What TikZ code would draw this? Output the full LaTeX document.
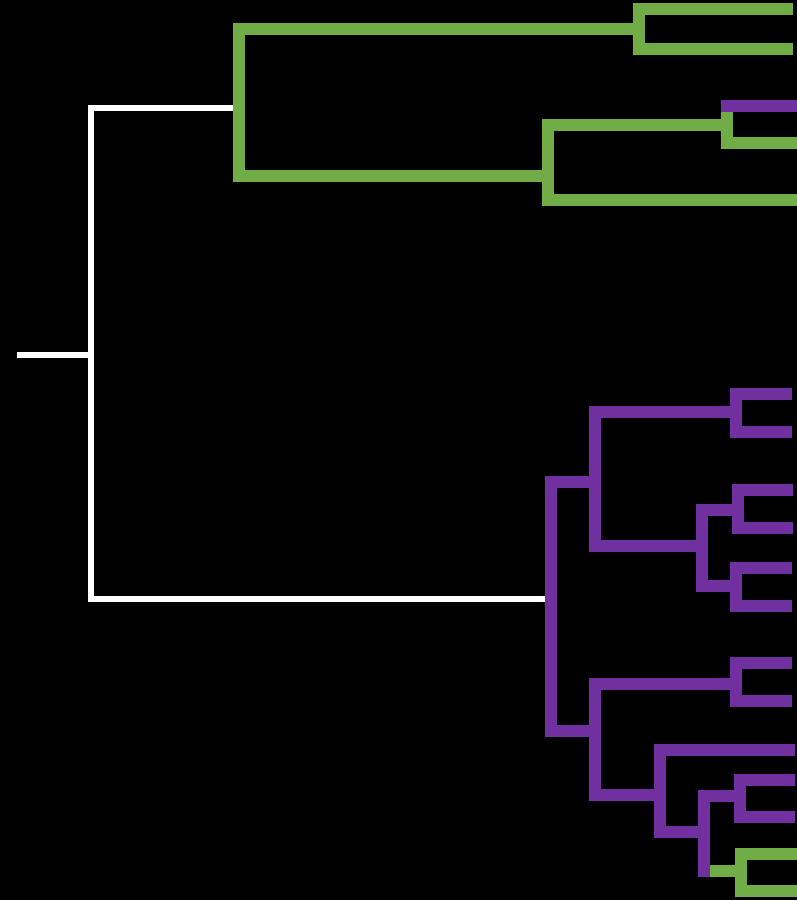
\documentclass[tikz,border=0pt]{standalone}
\definecolor{cgreen}{RGB}{112,173,71}
\definecolor{cpurple}{RGB}{112,48,160}
\begin{document}
\begin{tikzpicture}[x=1pt,y=-1pt,
  wbr/.style={draw=white,line width=6pt,line join=miter},
  gbr/.style={draw=cgreen,line width=12pt,line join=miter},
  pbr/.style={draw=cpurple,line width=12pt,line join=miter}]
\fill[black] (0,0) rectangle (797,900);
\useasboundingbox (0,0) rectangle (797,900);
% root
\coordinate (r0) at (17,355);
\coordinate (r) at (91,355);
\coordinate (rt) at (91,108);
\coordinate (rb) at (91,599);
\coordinate (gA) at (239,108);
\coordinate (pA) at (551,599);
\draw[wbr] (r0) -- (r);
\draw[wbr] (gA) -- (rt) -- (rb) -- (pA);
% green top clade
\coordinate (gAt) at (239,29);
\coordinate (gAb) at (239,176);
\coordinate (g1) at (639,29);
\coordinate (g1t) at (639,9);
\coordinate (g1b) at (639,49);
\coordinate (l1) at (793,9);
\coordinate (l2) at (793,49);
\coordinate (g2) at (548,176);
\coordinate (g2t) at (548,125);
\coordinate (g2b) at (548,200);
\coordinate (g3) at (727,125);
\coordinate (g3t) at (727,106);
\coordinate (g3b) at (727,143);
\coordinate (l3s) at (721,106);
\coordinate (l3) at (797,106);
\coordinate (l4) at (797,143);
\coordinate (l5) at (797,200);
\draw[gbr] (g1) -- (gAt) -- (gAb) -- (g2);
\draw[gbr] (l1) -- (g1t) -- (g1b) -- (l2);
\draw[gbr] (g3) -- (g2t) -- (g2b) -- (l5);
\draw[gbr] (g3t) -- (g3b) -- (l4);
\draw[pbr] (l3s) -- (l3);
% purple clade
\coordinate (pAt) at (551,482);
\coordinate (pAb) at (551,731);
\coordinate (p1) at (595,482);
\coordinate (p1t) at (595,412);
\coordinate (p1b) at (595,546);
\coordinate (p2) at (736,412);
\coordinate (p2t) at (736,394);
\coordinate (p2b) at (736,432);
\coordinate (m1) at (792,394);
\coordinate (m2) at (792,432);
\coordinate (p3) at (702,546);
\coordinate (p3t) at (702,510);
\coordinate (p3b) at (702,586);
\coordinate (p4) at (738,510);
\coordinate (p4t) at (738,490);
\coordinate (p4b) at (738,528);
\coordinate (m3) at (793,490);
\coordinate (m4) at (793,528);
\coordinate (p5) at (736,586);
\coordinate (p5t) at (736,568);
\coordinate (p5b) at (736,606);
\coordinate (m5) at (792,568);
\coordinate (m6) at (792,606);
\draw[pbr] (p1) -- (pAt) -- (pAb) -- (595,731);
\draw[pbr] (p2) -- (p1t) -- (p1b) -- (p3);
\draw[pbr] (m1) -- (p2t) -- (p2b) -- (m2);
\draw[pbr] (p4) -- (p3t) -- (p3b) -- (p5);
\draw[pbr] (m3) -- (p4t) -- (p4b) -- (m4);
\draw[pbr] (m5) -- (p5t) -- (p5b) -- (m6);
% lower purple group
\coordinate (q1t) at (595,684);
\coordinate (q1b) at (595,795);
\coordinate (q2) at (736,684);
\coordinate (q2t) at (736,663);
\coordinate (q2b) at (736,701);
\coordinate (n1) at (792,663);
\coordinate (n2) at (792,701);
\coordinate (q3) at (660,795);
\coordinate (q3t) at (660,750);
\coordinate (q3b) at (660,832);
\coordinate (n3) at (795,750);
\coordinate (q4) at (704,832);
\coordinate (q4t) at (704,796);
\coordinate (q4b) at (704,877);
\coordinate (q5) at (740,796);
\coordinate (q5t) at (740,780);
\coordinate (q5b) at (740,817);
\coordinate (n4) at (795,780);
\coordinate (n5) at (795,817);
\coordinate (q6s) at (704,871);
\coordinate (q6) at (741,871);
\coordinate (q6t) at (741,854);
\coordinate (q6b) at (741,891);
\coordinate (n6) at (797,854);
\coordinate (n7) at (797,891);
\draw[pbr] (q2) -- (q1t) -- (q1b) -- (q3);
\draw[pbr] (n1) -- (q2t) -- (q2b) -- (n2);
\draw[pbr] (n3) -- (q3t) -- (q3b) -- (q4);
\draw[pbr] (q5) -- (q4t) -- (q4b);
\draw[pbr] (n4) -- (q5t) -- (q5b) -- (n5);
\draw[gbr] (q6s) -- (q6);
\draw[gbr] (n6) -- (q6t) -- (q6b) -- (n7);
\draw[pbr] (q4t) -- (q4b);
\end{tikzpicture}
\end{document}
